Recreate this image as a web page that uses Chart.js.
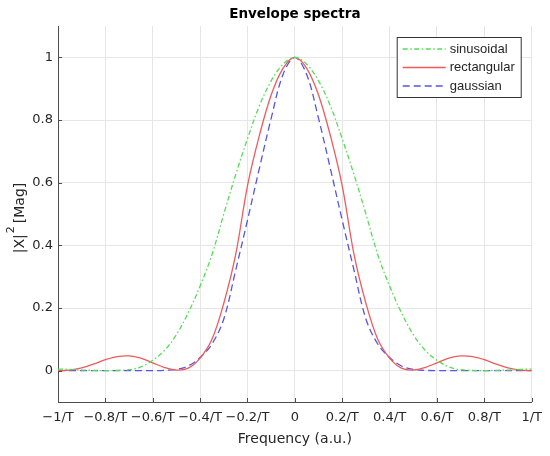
<!DOCTYPE html>
<html>
<head>
<meta charset="utf-8">
<script src="https://cdn.jsdelivr.net/npm/chart.js@4"></script>
<style>
  html, body { margin:0; padding:0; background:#fff; }
  #wrap { width:550px; height:456px; }
</style>
</head>
<body>
<div id="wrap"><canvas id="grafico"></canvas></div>
<script>
// frequency axis (units of 1/T)
const freq = [-1,-0.95,-0.9,-0.85,-0.8,-0.75,-0.7,-0.65,-0.6,-0.55,-0.5,-0.45,-0.4,-0.35,-0.3,-0.25,-0.2,-0.15,-0.1,-0.05,
              0,0.05,0.1,0.15,0.2,0.25,0.3,0.35,0.4,0.45,0.5,0.55,0.6,0.65,0.7,0.75,0.8,0.85,0.9,0.95,1];

const sinusoidal = [0.005,0.004,0.002,0.001,0,0.001,0.003,0.012,0.033,0.065,0.115,0.185,0.27,0.37,0.5,0.625,0.74,0.845,0.925,0.978,
                    1,0.978,0.925,0.845,0.74,0.625,0.5,0.37,0.27,0.185,0.115,0.065,0.033,0.012,0.003,0.001,0,0.001,0.002,0.004,0.005];

const rectangular = [0,0.002,0.009,0.021,0.035,0.045,0.047,0.04,0.025,0.01,0.002,0.008,0.04,0.1,0.215,0.37,0.59,0.75,0.88,0.965,
                     1,0.965,0.88,0.75,0.59,0.37,0.215,0.1,0.04,0.008,0.002,0.01,0.025,0.04,0.047,0.045,0.035,0.021,0.009,0.002,0];

const gaussian = [0,0,0,0,0,0,0,0,0,0.001,0.004,0.015,0.042,0.085,0.165,0.32,0.48,0.645,0.805,0.945,
                  1,0.945,0.805,0.645,0.48,0.32,0.165,0.085,0.042,0.015,0.004,0.001,0,0,0,0,0,0,0,0,0];

const xTicks = [-1,-0.8,-0.6,-0.4,-0.2,0,0.2,0.4,0.6,0.8,1];
const xTickLabels = ['\u22121/T','\u22120.8/T','\u22120.6/T','\u22120.4/T','\u22120.2/T','0','0.2/T','0.4/T','0.6/T','0.8/T','1/T'];
const yTicks = [0,0.2,0.4,0.6,0.8,1];
const yTickLabels = ['0','0.2','0.4','0.6','0.8','1'];

const series = [
  { label:'sinusoidal', data:sinusoidal, color:'#55dd55', dash:[5,2.5,1.5,2.5] },
  { label:'rectangular', data:rectangular, color:'#f05a5a', dash:[] },
  { label:'gaussian', data:gaussian, color:'#5555e6', dash:[7,4] }
];

const AXFONT = 'DejaVu Sans, Verdana, sans-serif';
const LGFONT = 'Liberation Sans, Arial, Helvetica, sans-serif';
const TXT = '#262626';

// title centred over the plot area, matlab style
const plotTitle = {
  id:'plotTitle',
  afterDraw(chart){
    const {ctx, chartArea:a} = chart;
    ctx.save();
    ctx.font = 'bold 13.5px ' + AXFONT;
    ctx.fillStyle = '#000';
    ctx.textAlign = 'center';
    ctx.textBaseline = 'middle';
    ctx.fillText('Envelope spectra', (a.left + a.right)/2, 14);
    ctx.restore();
  }
};

// inward tick marks like matlab axes
const tickMarks = {
  id:'tickMarks',
  afterDatasetsDraw(chart){
    const {ctx, chartArea:a, scales:{x, y}} = chart;
    ctx.save();
    ctx.strokeStyle = '#4d4d4d';
    ctx.lineWidth = 1;
    ctx.beginPath();
    xTicks.forEach(v=>{
      const px = Math.round(x.getPixelForValue(v)) + 0.5;
      ctx.moveTo(px, a.bottom); ctx.lineTo(px, a.bottom - 4);
    });
    yTicks.forEach(v=>{
      const py = Math.round(y.getPixelForValue(v)) + 0.5;
      ctx.moveTo(a.left, py); ctx.lineTo(a.left + 4, py);
    });
    ctx.stroke();
    ctx.restore();
  }
};

// y axis title with a raised 2
const yTitle = {
  id:'yTitle',
  afterDraw(chart){
    const ctx = chart.ctx;
    ctx.save();
    ctx.translate(20, 218);
    ctx.rotate(-Math.PI/2);
    ctx.fillStyle = TXT;
    ctx.textBaseline = 'middle';
    ctx.textAlign = 'left';
    const big = '14px ' + AXFONT, small = '11px ' + AXFONT;
    ctx.font = big;
    const w1 = ctx.measureText('|X|').width, w3 = ctx.measureText('[Mag]').width;
    ctx.font = small;
    const w2 = ctx.measureText('2').width;
    let u = -(w1 + w2 + w3 + 4)/2;
    ctx.font = big; ctx.fillText('|X|', u, 0); u += w1 + 1;
    ctx.font = small; ctx.fillText('2', u, -9); u += w2 + 3;
    ctx.font = big; ctx.fillText('[Mag]', u, 0);
    ctx.restore();
  }
};

// legend box in top right corner of the plot
const legendBox = {
  id:'legendBox',
  afterDraw(chart){
    const {ctx, chartArea:a} = chart;
    const w = 124, h = 60;
    const bx = a.right - 11 - w, by = a.top + 11;
    ctx.save();
    ctx.fillStyle = '#fff';
    ctx.fillRect(bx, by, w, h);
    ctx.strokeStyle = '#333';
    ctx.lineWidth = 1;
    ctx.strokeRect(bx + 0.5, by + 0.5, w, h);
    ctx.font = '13px ' + LGFONT;
    ctx.textBaseline = 'middle';
    series.forEach((s,i)=>{
      const yy = by + 12 + i*18.5;
      ctx.strokeStyle = s.color;
      ctx.lineWidth = 1.3;
      ctx.setLineDash(s.dash);
      ctx.beginPath();
      ctx.moveTo(bx + 6, yy); ctx.lineTo(bx + 49, yy);
      ctx.stroke();
      ctx.setLineDash([]);
      ctx.fillStyle = TXT;
      ctx.fillText(s.label, bx + 53, yy);
    });
    ctx.restore();
  }
};

const ctx = document.getElementById('grafico').getContext('2d');
new Chart(ctx, {
  type:'line',
  data:{
    datasets: series.map(s=>({
      label:s.label,
      data: freq.map((f,i)=>({x:f, y:s.data[i]})),
      borderColor:s.color,
      borderWidth:1.3,
      borderDash:s.dash,
      pointRadius:0,
      fill:false,
      tension:0.35
    }))
  },
  options:{
    responsive:true,
    maintainAspectRatio:false,
    animation:false,
    layout:{ padding:{ left:0, right:14, top:26, bottom:0 } },
    plugins:{
      legend:{ display:false },
      tooltip:{ enabled:false },
      title:{ display:false }
    },
    scales:{
      x:{
        type:'linear',
        min:-1, max:1,
        afterBuildTicks: sc=>{ sc.ticks = xTicks.map(v=>({value:v})); },
        afterFit: sc=>{ sc.height = 54; },
        ticks:{
          color:TXT, padding:8, maxRotation:0, autoSkip:false,
          font:{ family:AXFONT, size:13 },
          callback: v=>{ const i = xTicks.findIndex(t=>Math.abs(t-v)<1e-9); return i<0 ? '' : xTickLabels[i]; }
        },
        grid:{ color:'#e6e6e6', drawTicks:false },
        border:{ color:'#4d4d4d', width:1 },
        title:{ display:true, text:'Frequency (a.u.)', color:TXT, font:{ family:AXFONT, size:14 }, padding:{ top:0, bottom:8 } }
      },
      y:{
        min:-0.1, max:1.1,
        afterBuildTicks: sc=>{ sc.ticks = yTicks.map(v=>({value:v})); },
        afterFit: sc=>{ sc.width = 58; },
        ticks:{
          color:TXT, padding:5,
          font:{ family:AXFONT, size:13 },
          callback: v=>{ const i = yTicks.findIndex(t=>Math.abs(t-v)<1e-9); return i<0 ? '' : yTickLabels[i]; }
        },
        grid:{ color:'#e6e6e6', drawTicks:false },
        border:{ color:'#4d4d4d', width:1 }
      }
    }
  },
  plugins:[plotTitle, tickMarks, yTitle, legendBox]
});
</script>
</body>
</html>
